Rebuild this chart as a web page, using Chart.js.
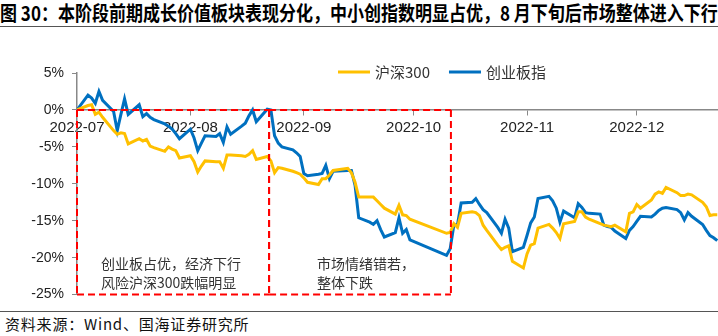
<!DOCTYPE html>
<html>
<head>
<meta charset="utf-8">
<script src="https://cdn.jsdelivr.net/npm/chart.js@4.4.1/dist/chart.umd.min.js"></script>
<style>
  body { margin: 0; width: 718px; height: 336px; background: #fff; overflow: hidden; position: relative;
         font-family: "Noto Sans CJK SC", sans-serif; }
  .title { position: absolute; left: 0; top: 0; width: 718px; height: 26px; border-bottom: 1.5px solid #555;
           font-size: 17px; font-weight: bold; color: #000; white-space: nowrap; line-height: 26px; }
  .title span { display: inline-block; transform: scaleY(1.18); transform-origin: 0 60%; }
  .wrap { position: absolute; left: 0; top: 29px; width: 718px; height: 282px; }
  .source { position: absolute; left: 0; top: 311px; width: 718px; height: 25px; border-top: 1.5px solid #555;
            font-size: 15px; color: #111; padding-left: 5px; box-sizing: border-box; line-height: 23px; letter-spacing: 0.8px; }
</style>
</head>
<body>
<div class="title"><span>图 30：本阶段前期成长价值板块表现分化，中小创指数明显占优，8 月下旬后市场整体进入下行</span></div>
<div class="wrap"><canvas id="chart"></canvas></div>
<div class="source">资料来源：Wind、国海证券研究所</div>
<script>
// 交易日，按距 2022-07-01 的天数计
const days = [
  0, 3, 4, 5, 6, 7, 10, 11, 12, 13, 14, 17, 18, 19, 20, 21, 24, 25, 26, 27, 28,
  31, 32, 33, 34, 35, 38, 39, 40, 41, 42, 45, 46, 47, 48, 49, 52, 53, 54, 55, 56, 59, 60, 61,
  62, 63, 66, 67, 68, 69, 70, 74, 75, 76, 77, 80, 81, 82, 83, 84, 87, 88, 89, 90, 91,
  101, 102, 103, 104, 105, 108, 109, 110, 111, 112, 115, 116, 117, 118, 119, 122,
  123, 124, 125, 126, 129, 130, 131, 132, 133, 136, 137, 138, 139, 140, 143, 144, 145, 146, 147, 150, 151, 152,
  153, 154, 157, 158, 159, 160, 161, 164, 165, 166, 167, 168, 171, 172, 173, 174, 175
];

// 沪深300 累计涨跌幅 (%)
const hs300 = [
  0, 0.6, 0.7, -0.6, -0.3, -1.0, -2.8, -3.3, -3.1, -3.2, -4.6, -3.9, -4.2, -4.0, -4.9, -5.1, -5.6, -5.0, -5.3, -5.5, -6.5,
  -6.2, -7.0, -8.4, -7.6, -6.9, -7.0, -7.0, -7.9, -6.1, -6.1, -6.2, -6.3, -6.0, -5.5, -6.7, -6.3, -6.9, -8.5, -7.8, -7.9, -8.3, -8.5, -8.7,
  -9.2, -9.8, -10.1, -9.3, -9.3, -8.8, -8.2, -7.9, -8.5, -9.8, -11.8, -11.8, -11.8, -12.3, -12.8, -13.3, -14.1, -12.9, -14.2, -14.3, -14.8,
  -16.7, -16.6, -15.4, -15.9, -14.0, -13.8, -13.9, -14.3, -15.6, -16.3, -18.3, -18.9, -18.6, -18.4, -20.5, -21.4,
  -19.5, -18.3, -18.1, -16.0, -15.5, -16.0, -16.6, -17.4, -15.4, -15.1, -13.8, -13.8, -14.5, -14.8, -15.4, -15.6, -15.7, -15.8, -15.6, -16.5, -14.0, -13.8,
  -12.8, -13.3, -12.2, -11.4, -11.1, -11.3, -10.5, -11.2, -11.6, -11.6, -11.4, -11.5, -12.5, -13.1, -14.3, -14.2, -14.2
];

// 创业板指 累计涨跌幅 (%)
const cyb = [
  0, 2.0, 1.6, 0.9, 2.5, 1.3, -0.2, -2.8, -0.6, 1.5, -0.6, 0.7, -0.9, -0.5, -1.0, -1.3, -1.9, -2.2, -2.6, -3.2, -3.9,
  -2.6, -3.8, -5.5, -4.5, -3.5, -3.6, -3.2, -4.4, -2.3, -3.3, -2.2, -1.8, -0.8, 0.0, -1.6, 0.1, 0.0, -3.5, -4.5, -5.0, -5.4, -5.8, -6.3,
  -8.6, -8.9, -8.7, -8.6, -7.5, -9.3, -8.3, -8.2, -8.2, -10.2, -14.6, -15.2, -15.5, -15.0, -16.2, -17.2, -16.6, -14.6, -16.7, -16.2, -17.6,
  -19.7, -18.8, -15.6, -15.5, -12.6, -12.5, -12.0, -12.8, -13.5, -13.9, -15.9, -16.7, -14.8, -16.0, -19.2, -18.6,
  -17.0, -15.3, -14.5, -12.0, -11.7, -12.3, -13.3, -15.2, -13.7, -14.6, -12.7, -13.2, -13.9, -14.0, -14.1, -15.6, -15.8, -15.9, -16.4, -17.4, -16.3, -15.8,
  -15.1, -14.4, -14.5, -14.1, -13.6, -13.3, -13.2, -13.5, -13.9, -14.9, -13.9, -14.4, -15.5, -16.3, -17.0, -17.3, -17.7
];

// 月初刻度
const tickDays = [0, 31, 62, 92, 123, 153];
const tickLabels = ['2022-07', '2022-08', '2022-09', '2022-10', '2022-11', '2022-12'];

// 红色虚线框（起止天数）及说明文字
const boxRanges = [[0, 52.5], [52.5, 102.2]];
const boxNotes = [
  ['创业板占优，经济下行', '风险沪深300跌幅明显'],
  ['市场情绪错若，', '整体下跌']
];

const toPoints = vals => vals.map((v, i) => ({ x: days[i], y: v }));

// 虚线框：每条边单独画，共用的竖边虚线相位一致
const boxPlugin = {
  id: 'boxes',
  afterDatasetsDraw(chart) {
    const { ctx, scales: { x, y } } = chart;
    const textLeft = [24, 48];
    const seg = (x1, y1, x2, y2) => {
      ctx.beginPath();
      ctx.moveTo(x1, y1);
      ctx.lineTo(x2, y2);
      ctx.stroke();
    };
    ctx.save();
    boxRanges.forEach((r, i) => {
      const l = x.getPixelForValue(r[0]);
      const rr = x.getPixelForValue(r[1]);
      const t = y.getPixelForValue(0);
      const b = y.getPixelForValue(-25);
      ctx.strokeStyle = '#ff0000';
      ctx.lineWidth = 2;
      ctx.setLineDash([7, 4]);
      seg(l, t, rr, t);
      seg(l, b, rr, b);
      seg(l, t, l, b);
      seg(rr, t, rr, b);
      ctx.setLineDash([]);
      ctx.fillStyle = '#333';
      ctx.font = '14px "Noto Sans CJK SC"';
      ctx.textBaseline = 'middle';
      boxNotes[i].forEach((line, j) => {
        ctx.fillText(line, l + textLeft[i], b - 31 + j * 19);
      });
    });
    ctx.restore();
  }
};

// 图例（画在绘图区内）
const legendPlugin = {
  id: 'innerLegend',
  afterDraw(chart) {
    const ctx = chart.ctx;
    const yMid = chart.chartArea.top - 1;
    let xPos = 338;
    ctx.save();
    ctx.font = '15px "Noto Sans CJK SC"';
    ctx.textBaseline = 'middle';
    chart.data.datasets.forEach(ds => {
      ctx.strokeStyle = ds.borderColor;
      ctx.lineWidth = 3;
      ctx.beginPath();
      ctx.moveTo(xPos, yMid);
      ctx.lineTo(xPos + 32, yMid);
      ctx.stroke();
      ctx.fillStyle = '#333';
      ctx.fillText(ds.label, xPos + 37, yMid);
      xPos += 37 + ctx.measureText(ds.label).width + 19;
    });
    ctx.restore();
  }
};

new Chart(document.getElementById('chart'), {
  type: 'line',
  data: {
    datasets: [
      { label: '沪深300', data: toPoints(hs300), borderColor: '#FFC000', borderWidth: 3, pointRadius: 0, tension: 0 },
      { label: '创业板指', data: toPoints(cyb), borderColor: '#0070C0', borderWidth: 3, pointRadius: 0, tension: 0 }
    ]
  },
  options: {
    responsive: true,
    maintainAspectRatio: false,
    animation: false,
    layout: { padding: { top: 44, bottom: 13, left: 0, right: 0 } },
    plugins: {
      legend: { display: false },
      tooltip: { enabled: false }
    },
    scales: {
      x: {
        type: 'linear',
        position: { y: 0 },
        min: 0,
        max: 175.2,
        afterBuildTicks: scale => { scale.ticks = tickDays.map(v => ({ value: v })); },
        ticks: {
          autoSkip: false,
          maxRotation: 0,
          padding: 4,
          color: '#222',
          font: { family: 'Liberation Sans', size: 15 },
          callback: v => tickLabels[tickDays.indexOf(v)]
        },
        grid: { drawOnChartArea: false, drawTicks: true, tickLength: 5, color: '#888' },
        border: { color: '#888', width: 1.5 }
      },
      y: {
        min: -25,
        max: 5,
        afterFit: scale => { scale.width = 77; },
        ticks: {
          stepSize: 5,
          padding: 8,
          color: '#222',
          font: { family: 'Liberation Sans', size: 14 },
          callback: v => v + '%'
        },
        grid: { drawOnChartArea: false, drawTicks: true, tickLength: 5, color: '#888' },
        border: { color: '#888', width: 1.5 }
      }
    }
  },
  plugins: [boxPlugin, legendPlugin]
});
</script>
</body>
</html>
